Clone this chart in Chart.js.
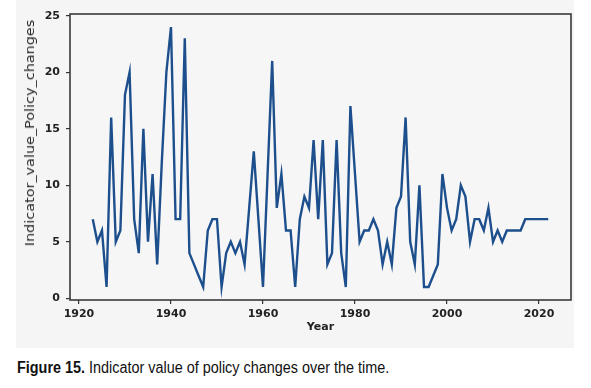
<!DOCTYPE html>
<html>
<head>
<meta charset="utf-8">
<script src="https://cdn.jsdelivr.net/npm/chart.js@4/dist/chart.umd.min.js"></script>
<style>
  html, body { margin: 0; padding: 0; background: #ffffff; width: 591px; height: 388px; overflow: hidden; }
  #figbg { position: absolute; left: 16px; top: 0px; width: 558px; height: 348px; background: #f5f5f5; }
  #wrap { position: absolute; left: 0; top: 0; width: 591px; height: 348px; }
  #ytitle { position: absolute; left: 30px; top: 133px; transform: translate(-50%, -50%) rotate(-90deg) scaleX(1.2);
            font-family: "DejaVu Sans", sans-serif; font-size: 12px; color: #2a2a2a; white-space: nowrap; }
  #caption { position: absolute; left: 17px; top: 359px; font-family: "Liberation Sans", Arial, sans-serif;
             font-size: 16px; color: #111; white-space: nowrap; transform-origin: 0 0; transform: scaleX(0.9); }
  #caption b { font-weight: bold; }
</style>
</head>
<body>
<div id="figbg"></div>
<div id="wrap"><canvas id="c" width="591" height="348"></canvas></div>
<div id="ytitle">Indicator_value_Policy_changes</div>
<div id="caption"><b>Figure 15.</b> Indicator value of policy changes over the time.</div>
<script>
const years = [1923,1924,1925,1926,1927,1928,1929,1930,1931,1932,
  1933,1934,1935,1936,1937,1938,1939,1940,1941,1942,
  1943,1944,1945,1946,1947,1948,1949,1950,1951,1952,
  1953,1954,1955,1956,1957,1958,1959,1960,1961,1962,
  1963,1964,1965,1966,1967,1968,1969,1970,1971,1972,
  1973,1974,1975,1976,1977,1978,1979,1980,1981,1982,
  1983,1984,1985,1986,1987,1988,1989,1990,1991,1992,
  1993,1994,1995,1996,1997,1998,1999,2000,2001,2002,
  2003,2004,2005,2006,2007,2008,2009,2010,2011,2012,
  2013,2014,2015,2016,2017,2018,2019,2020,2021,2022];
const policyChanges = [7,5,6,1,16,5,6,18,20,7,
  4,15,5,11,3,12,20,24,7,7,
  23,4,3,2,1,6,7,7,1,4,
  5,4,5,3,8,13,7,1,11,21,
  8,11,6,6,1,7,9,8,14,7,
  14,3,4,14,4,1,17,11,5,6,
  6,7,6,3,5,3,8,9,16,5,
  3,10,1,1,2,3,11,8,6,7,
  10,9,5,7,7,6,8,5,6,5,
  6,6,6,6,7,7,7,7,7,7];
const xTicks = [1920,1940,1960,1980,2000,2020];
const yTicks = [0,5,10,15,20,25];

const frame = {
  id: 'frame',
  beforeDatasetsDraw(chart) {
    const a = chart.chartArea, ctx = chart.ctx;
    ctx.save();
    ctx.fillStyle = '#f6f6f6';
    ctx.fillRect(a.left, a.top, a.right - a.left, a.bottom - a.top);
    ctx.restore();
  },
  afterDatasetsDraw(chart) {
    const a = chart.chartArea, ctx = chart.ctx;
    ctx.save();
    ctx.strokeStyle = '#3a3a3a';
    ctx.lineWidth = 1.6;
    ctx.strokeRect(a.left, a.top, a.right - a.left, a.bottom - a.top);
    ctx.restore();
  }
};

const tickFont = { family: 'DejaVu Sans', size: 11, weight: 'bold' };

new Chart(document.getElementById('c'), {
  type: 'line',
  data: {
    datasets: [{
      data: years.map((y, i) => ({ x: y, y: policyChanges[i] })),
      borderColor: '#1d4f8d',
      borderWidth: 2.4,
      pointRadius: 0,
      tension: 0,
      fill: false
    }]
  },
  options: {
    responsive: false,
    devicePixelRatio: 1,
    animation: false,
    layout: { padding: { left: 15, right: 20, top: 14, bottom: 14 } },
    plugins: { legend: { display: false }, tooltip: { enabled: false } },
    scales: {
      x: {
        type: 'linear',
        min: 1918.05,
        max: 2026.95,
        afterBuildTicks: s => { s.ticks = xTicks.map(v => ({ value: v })); },
        afterFit: s => { s.height = 34; },
        ticks: { font: tickFont, color: '#222', padding: 4, maxRotation: 0, callback: v => String(v) },
        grid: { drawOnChartArea: false, drawTicks: true, tickLength: 4, color: '#333', lineWidth: 1.2 },
        border: { display: false },
        title: { display: true, text: 'Year', font: { family: 'DejaVu Sans', size: 11, weight: 'bold' }, color: '#222', padding: { top: 0, bottom: 0 } }
      },
      y: {
        type: 'linear',
        min: -0.15,
        max: 25.15,
        afterBuildTicks: s => { s.ticks = yTicks.map(v => ({ value: v })); },
        afterFit: s => { s.width = 55; },
        ticks: { font: tickFont, color: '#222', padding: 6 },
        grid: { drawOnChartArea: false, drawTicks: true, tickLength: 4, color: '#333', lineWidth: 1.2 },
        border: { display: false }
      }
    }
  },
  plugins: [frame]
});
</script>
</body>
</html>
